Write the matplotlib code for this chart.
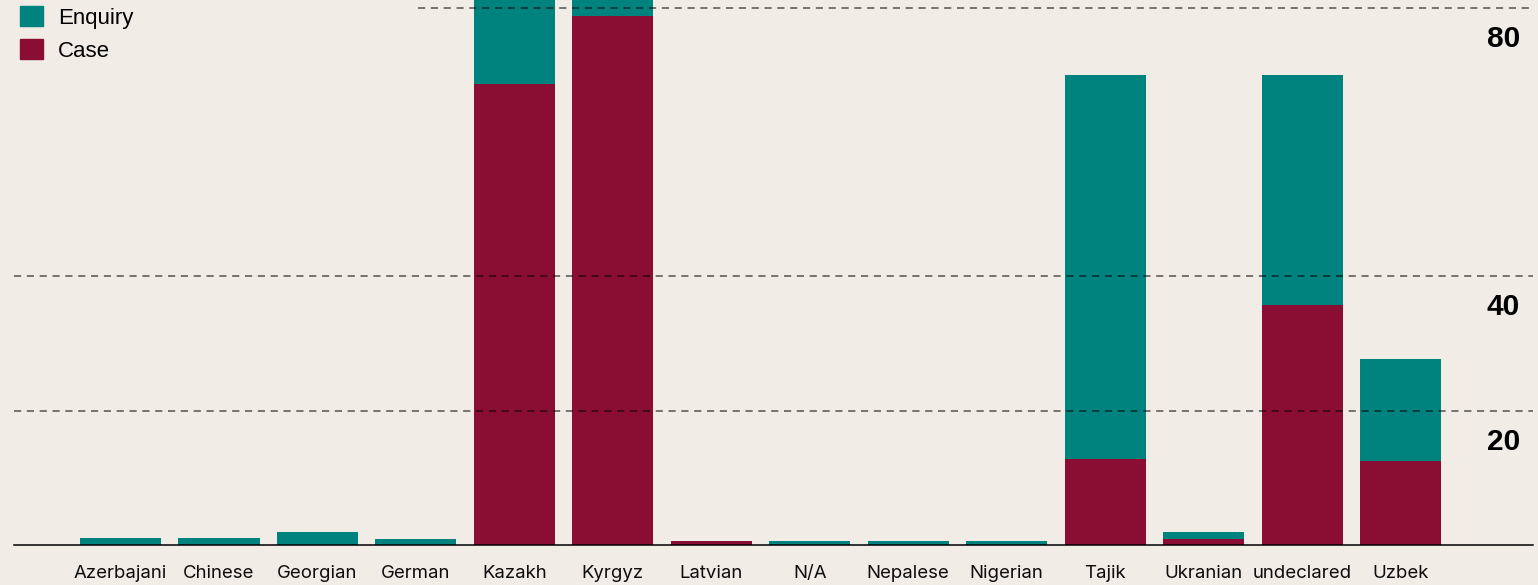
import matplotlib.pyplot as plt
from matplotlib.patches import Patch

# nationalities along the bottom
cats = ['Azerbajani', 'Chinese', 'Georgian', 'German', 'Kazakh', 'Kyrgyz', 'Latvian',
        'N/A', 'Nepalese', 'Nigerian', 'Tajik', 'Ukranian', 'undeclared', 'Uzbek']
case = [0, 0, 0, 0, 68.7, 78.8, 0.6, 0, 0, 0, 12.8, 0.9, 35.7, 12.5]
enquiry = [1.0, 1.0, 1.9, 0.9, 16, 4, 0, 0.6, 0.6, 0.6, 57.2, 1.0, 34.3, 15.2]
grid_vals = [20, 40, 80]

bg = '#F1ECE6'
teal = '#00827F'
red = '#8A0D33'

W, H = 1538, 585
fig = plt.figure(figsize=(W / 100, H / 100), dpi=100, facecolor=bg)
ax = fig.add_axes([14 / W, 40 / H, (1533 - 14) / W, 545 / H])
ax.set_facecolor(bg)

x = list(range(len(cats)))
ax.bar(x, case, width=0.823, color=red, zorder=2)
ax.bar(x, enquiry, width=0.823, bottom=case, color=teal, zorder=2)

ax.set_xlim(-1.082, 14.346)
ax.set_ylim(0, 81.16)

# dashed guide lines, the top one stops short of the legend
for v in grid_vals:
    xmin = (418 - 14) / 1519 if v == 80 else 0
    ax.axhline(v, xmin=xmin, color='black', alpha=0.6, lw=1.2,
               linestyle=(0, (4.3, 3.4)), zorder=3)
    ax.annotate(str(v), xy=(0.9914, v), xycoords=('axes fraction', 'data'),
                xytext=(0, -22.3), textcoords='offset points',
                ha='right', va='center', fontsize=21.5, fontweight='bold',
                family='Liberation Sans', color='black')

for s in ['top', 'left', 'right']:
    ax.spines[s].set_visible(False)
ax.spines['bottom'].set_color('black')
ax.spines['bottom'].set_linewidth(1.1)
ax.spines['bottom'].set_zorder(4)

ax.set_yticks([])
ax.set_xticks(x)
ax.set_xticklabels(cats, family='Inter', fontsize=13.4, color='#0d0d0d')
ax.tick_params(axis='x', length=0, pad=14.5)

handles = [Patch(color=teal, label='Enquiry'), Patch(color=red, label='Case')]
leg = fig.legend(handles=handles, loc='upper left', bbox_to_anchor=(16 / W, 1 - 2 / H),
                 frameon=False, prop={'family': 'Liberation Sans', 'size': 16},
                 handlelength=1.0, handleheight=1.0, handletextpad=0.7,
                 labelspacing=0.45, borderaxespad=0, borderpad=0.2)

fig.savefig('out.png', dpi=100, facecolor=bg)
